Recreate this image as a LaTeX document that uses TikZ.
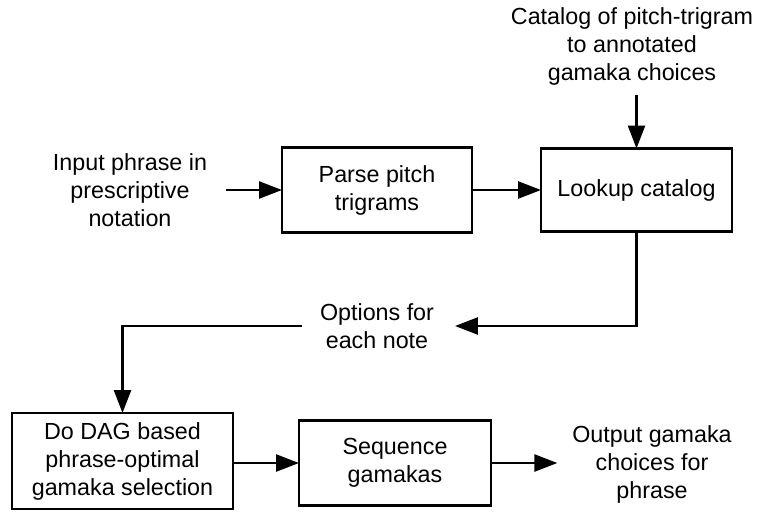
\documentclass[tikz,border=0pt]{standalone}
\usepackage{fontspec}
\setmainfont{Liberation Sans}
\usetikzlibrary{arrows.meta}
\begin{document}
\begin{tikzpicture}[x=1pt,y=-1pt,
  font=\fontsize{23.3pt}{28pt}\selectfont,
  every node/.style={align=center, inner sep=0pt, outer sep=0pt},
  procbox/.style={draw, line width=2.5pt},
  flow/.style={line width=2.5pt, -{Triangle[length=23pt,width=17pt]}}]
  \useasboundingbox (0,0) rectangle (759,511);

  % free-standing labels
  \node (in)  at (130,190) {Input phrase in\\prescriptive\\notation};
  \node (cat) at (632,46)  {Catalog of pitch-trigram\\to annotated\\gamaka choices};
  \node (opt) at (377,326) {Options for\\each note};
  \node (out) at (652,464) {Output gamaka\\choices for\\phrase};

  % processing steps
  \node[procbox, minimum width=190pt, minimum height=85pt] (parse) at (377,190) {Parse pitch\\trigrams};
  \node[procbox, minimum width=191pt, minimum height=83pt] (look)  at (636.5,190) {Lookup catalog};
  \node[procbox, minimum width=221pt, minimum height=96pt] (dag)   at (122.5,461) {Do DAG based\\phrase-optimal\\gamaka selection};
  \node[procbox, minimum width=192pt, minimum height=85pt] (seq)   at (395,463) {Sequence\\gamakas};

  % connectors
  \draw[flow, shorten <=19pt] (in.east) -- (parse.west);
  \draw[flow] (parse.east) -- (look.west);
  \draw[flow, shorten <=10pt] (look.north |- cat.south) -- (look.north);
  \draw[flow, shorten >=21pt] (look.south) |- (opt.east);
  \draw[flow, shorten <=18pt] (opt.west) -| (dag.north);
  \draw[flow] (dag.east |- seq.west) -- (seq.west);
  \draw[flow, shorten >=15pt] (seq.east) -- (out.west |- seq.east);
\end{tikzpicture}
\end{document}
